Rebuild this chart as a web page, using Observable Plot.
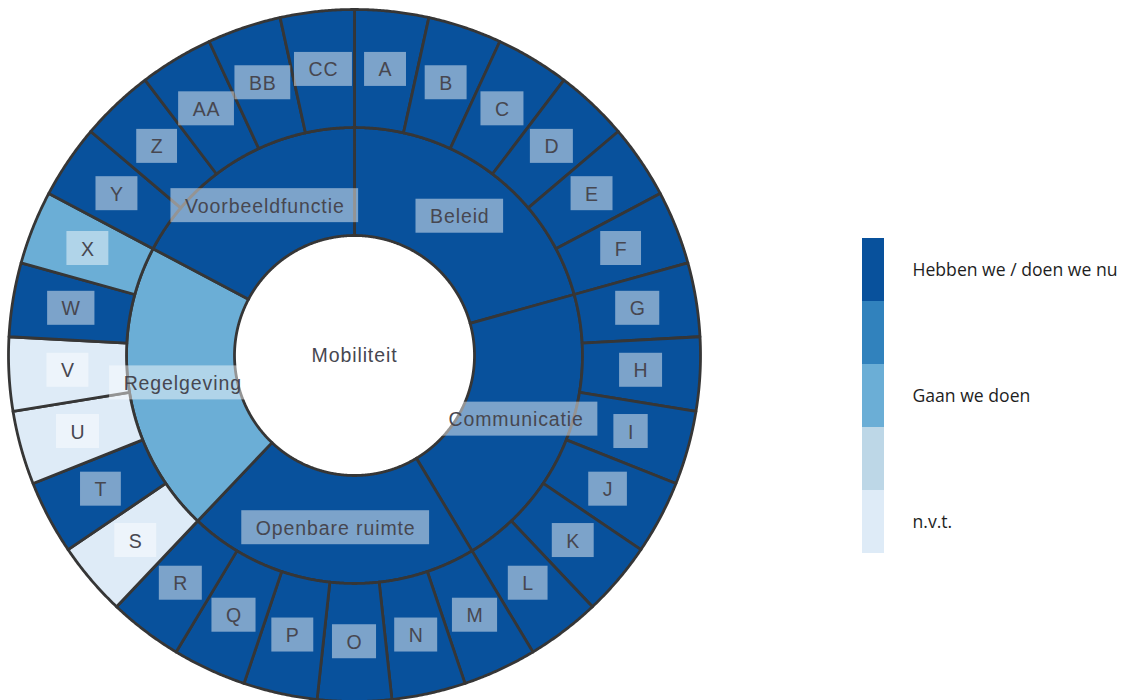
<!DOCTYPE html>
<html><head><meta charset="utf-8">
<script src="https://cdn.jsdelivr.net/npm/d3@7"></script>
<script src="https://cdn.jsdelivr.net/npm/@observablehq/plot@0.6"></script>
<style>
body{margin:0;background:#fff;}
#wrap{position:relative;width:1131px;height:700px;overflow:hidden;}
#chart{position:absolute;left:0;top:0;}
#legend{position:absolute;left:862px;top:238px;}
</style></head><body>
<div id="wrap"><div id="chart"></div><div id="legend"></div></div>
<script>
// ---------- data ----------
const rootLabel = "Mobiliteit";
const groupNames  = ["Beleid", "Communicatie", "Openbare ruimte", "Regelgeving", "Voorbeeldfunctie"];
const groupStatus = ["nu", "nu", "nu", "gaan", "nu"];
const leafNames  = ["A","B","C","D","E","F","G","H","I","J","K","L","M","N","O","P","Q","R","S","T","U","V","W","X","Y","Z","AA","BB","CC"];
const leafGroups = ["Beleid","Beleid","Beleid","Beleid","Beleid","Beleid",
  "Communicatie","Communicatie","Communicatie","Communicatie","Communicatie","Communicatie",
  "Openbare ruimte","Openbare ruimte","Openbare ruimte","Openbare ruimte","Openbare ruimte","Openbare ruimte",
  "Regelgeving","Regelgeving","Regelgeving","Regelgeving","Regelgeving","Regelgeving",
  "Voorbeeldfunctie","Voorbeeldfunctie","Voorbeeldfunctie","Voorbeeldfunctie","Voorbeeldfunctie"];
const leafStatus = ["nu","nu","nu","nu","nu","nu",
  "nu","nu","nu","nu","nu","nu",
  "nu","nu","nu","nu","nu","nu",
  "nvt","nu","nvt","nvt","nu","gaan",
  "nu","nu","nu","nu","nu"];
const legendLabels = ["Hebben we / doen we nu", "", "Gaan we doen", "", "n.v.t."];
const legendColors = ["#08519c", "#3182bd", "#6baed6", "#bdd7e7", "#deebf7"];
const statusColor = {nu: legendColors[0], gaan: legendColors[2], nvt: legendColors[4]};

// ---------- hierarchy ----------
const tree = {name: rootLabel, children: groupNames.map((g, gi) => ({
  name: g, status: groupStatus[gi],
  children: leafNames.map((n, i) => ({name: n, status: leafStatus[i], group: leafGroups[i], value: 1}))
                     .filter(d => d.group === g)
}))};
const root = d3.hierarchy(tree).sum(d => d.value || 0);
d3.partition().size([2 * Math.PI, 3])(root);
const radii = [0, 120, 228, 346];

const polys = [];
const labels = [];
root.descendants().filter(d => d.depth > 0).forEach((d, id) => {
  const rin = radii[d.depth], rout = radii[d.depth + 1];
  const n = Math.max(8, Math.ceil((d.x1 - d.x0) / 0.005));
  const fill = statusColor[d.data.status];
  const pts = [];
  for (let k = 0; k <= n; k++) { const a = d.x0 + (d.x1 - d.x0) * k / n; pts.push([rout * Math.sin(a), rout * Math.cos(a)]); }
  for (let k = n; k >= 0; k--) { const a = d.x0 + (d.x1 - d.x0) * k / n; pts.push([rin * Math.sin(a), rin * Math.cos(a)]); }
  pts.push(pts[0]);
  pts.forEach(([x, y]) => polys.push({id, x, y, fill}));
  const am = (d.x0 + d.x1) / 2, rm = (rin + rout) / 2;
  labels.push({x: rm * Math.sin(am), y: rm * Math.cos(am), text: d.data.name, depth: d.depth});
});
labels.push({x: 0, y: 0, text: rootLabel, depth: 0});

const cx = 354, cy = 355, W = 1131, H = 700;
const chart = Plot.plot({
  width: W, height: H, margin: 0,
  x: {domain: [-cx, W - cx], axis: null},
  y: {domain: [-(H - cy), cy], axis: null},
  color: {type: "identity"},
  marks: [
    Plot.line(polys, {x: "x", y: "y", z: "id", fill: "fill", stroke: "#363636", strokeWidth: 2.8, strokeLinejoin: "round", curve: "linear"}),
    Plot.text(labels.filter(d => d.depth > 0), {x: "x", y: "y", text: "text", fontSize: 19.5, fill: "#474750", className: "boxed"}),
    Plot.text(labels.filter(d => d.depth === 0), {x: "x", y: "y", text: "text", fontSize: 19.5, fill: "#474750"})
  ]
});
chart.style.fontFamily = "'Liberation Sans', Arial, sans-serif";
chart.style.letterSpacing = "0.9px";
document.getElementById("chart").appendChild(chart);

// semi-transparent boxes behind the ring labels
const tg = chart.querySelector("g.boxed") || [...chart.querySelectorAll("g[aria-label='text']")][0];
const boxG = document.createElementNS("http://www.w3.org/2000/svg", "g");
tg.parentNode.insertBefore(boxG, tg);
tg.querySelectorAll("text").forEach(t => {
  const b = t.getBBox();
  const r = document.createElementNS("http://www.w3.org/2000/svg", "rect");
  const cxp = b.x + b.width / 2, cyp = b.y + b.height / 2;
  r.setAttribute("x", cxp - b.width / 2 - 14);
  r.setAttribute("width", b.width + 28);
  r.setAttribute("y", cyp - 17);
  r.setAttribute("height", 34);
  r.setAttribute("fill", "#fff");
  r.setAttribute("fill-opacity", 0.47);
  const tr = t.getAttribute("transform");
  if (tr) r.setAttribute("transform", tr);
  boxG.appendChild(r);
});

// ---------- legend ----------
const legendData = legendColors.map((c, i) => ({i, color: c, label: legendLabels[i]}));
const legend = Plot.plot({
  width: 269, height: 315, margin: 0,
  x: {domain: [0, 269], axis: null},
  y: {type: "band", domain: legendData.map(d => d.i), padding: 0, axis: null},
  color: {type: "identity"},
  marks: [
    Plot.barX(legendData, {x1: 0, x2: 22, y: "i", fill: "color", inset: 0}),
    Plot.text(legendData, {x: 50, y: "i", text: "label", textAnchor: "start", fontSize: 17.6, fill: "#1e1e1e"})
  ]
});
legend.style.fontFamily = "'Open Sans', Lato, sans-serif";
document.getElementById("legend").appendChild(legend);
</script>
</body></html>
